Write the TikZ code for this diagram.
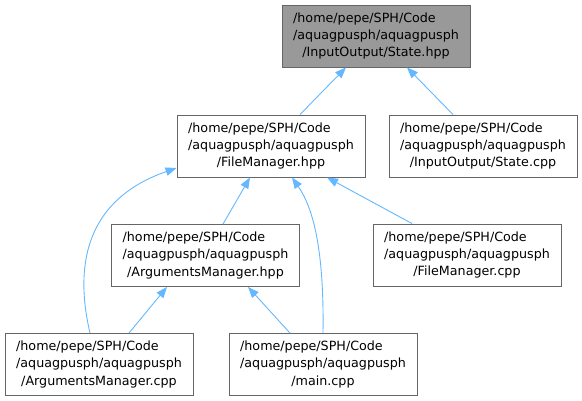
\documentclass[tikz,border=0pt]{standalone}
\usepackage{fontspec}
\setmainfont{DejaVu Sans}
\usetikzlibrary{arrows.meta, calc}

\definecolor{edgeblue}{HTML}{63B8FF}
\definecolor{boxborder}{HTML}{666666}
\definecolor{boxfocus}{HTML}{999999}

% three-line path label: first two lines left, last line centred
\newcommand{\pathlabel}[1]{%
  \begin{tabular}{@{}l@{}}/home/pepe/SPH/Code\\/aquagpusph/aquagpusph\\\multicolumn{1}{@{}c@{}}{#1}\end{tabular}}

\begin{document}
\begin{tikzpicture}[
    x=1pt, y=-1pt,
    filebox/.style={rectangle, draw=boxborder, fill=white, line width=0.9pt, inner sep=0pt,
                    minimum width=188pt, minimum height=62pt,
                    font=\fontsize{12.7}{17.3}\selectfont},
    focusbox/.style={filebox, fill=boxfocus},
    include/.style={-{Triangle[length=11pt, width=8.5pt]}, line width=0.9pt, draw=edgeblue, color=edgeblue}
]
    \useasboundingbox (0,0) rectangle (582,401);

    % --- Row 0 ---
    \node[focusbox] (state_hpp) at (376,36) {\pathlabel{/InputOutput/State.hpp}};

    % --- Row 1 ---
    \node[filebox] (filemgr_hpp) at (271,146) {\pathlabel{/FileManager.hpp}};
    \node[filebox] (state_cpp) at (483,146) {\pathlabel{/InputOutput/State.cpp}};

    % --- Row 2 ---
    \node[filebox] (argsmgr_hpp) at (205.5,255.5) {\pathlabel{/ArgumentsManager.hpp}};
    \node[filebox] (filemgr_cpp) at (467,255) {\pathlabel{/FileManager.cpp}};

    % --- Row 3 ---
    \node[filebox] (argsmgr_cpp) at (99,364.5) {\pathlabel{/ArgumentsManager.cpp}};
    \node[filebox] (main_cpp) at (323,364.5) {\pathlabel{/main.cpp}};

    % --- Includes ---
    \draw[include] ([xshift=29pt]filemgr_hpp.north) -- ([xshift=-30pt]state_hpp.south);
    \draw[include] ([xshift=-30pt]state_cpp.north) -- ([xshift=31pt]state_hpp.south);

    \draw[include] ([xshift=17.5pt]argsmgr_hpp.north) -- ([xshift=-21pt]filemgr_hpp.south);
    \draw[include] ([xshift=-55pt]filemgr_cpp.north) -- ([xshift=56pt]filemgr_hpp.south);
    \draw[include] (main_cpp.north) .. controls (324,260) and (316,212) .. ([xshift=21pt]filemgr_hpp.south);
    \draw[include] ([xshift=-9pt]argsmgr_cpp.north) .. controls (80,290) and (70,205) .. ([yshift=-22pt]filemgr_hpp.west);

    \draw[include] ([xshift=30pt]argsmgr_cpp.north) -- ([xshift=-38.5pt]argsmgr_hpp.south);
    \draw[include] ([xshift=-33pt]main_cpp.north) -- ([xshift=42.5pt]argsmgr_hpp.south);

\end{tikzpicture}
\end{document}
